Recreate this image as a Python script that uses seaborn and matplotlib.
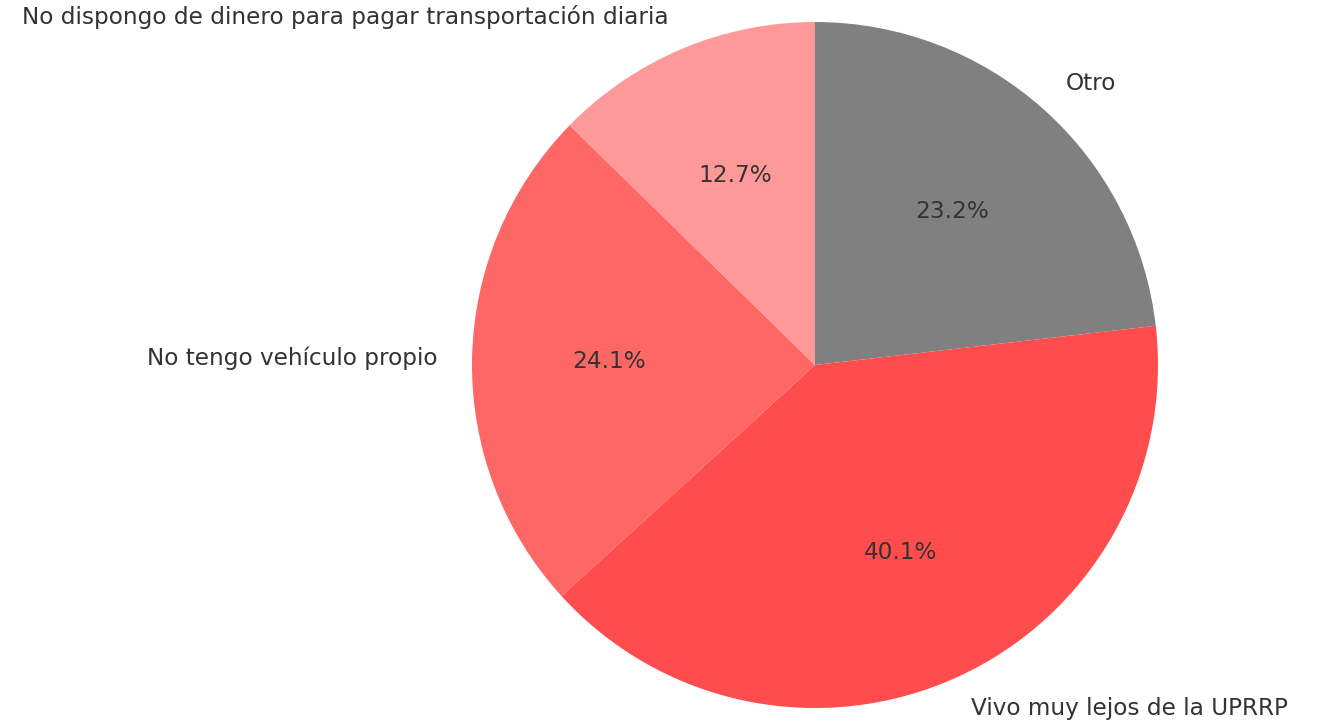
import matplotlib
matplotlib.use("Agg")
import matplotlib.pyplot as plt
import seaborn as sns

# datos
categorias = ["Otro", "Vivo muy lejos de la UPRRP", "No tengo vehículo propio",
              "No dispongo de dinero para pagar transportación diaria"]
porcentajes = [23.2, 40.1, 24.1, 12.7]
colores = ["#808080", "#FF4C4C", "#FF6666", "#FF9999"]

sns.set_theme(style="white")
plt.rcParams['font.family'] = ['DejaVu Sans']
plt.rcParams['text.color'] = '#333333'

fig = plt.figure(figsize=(13.25, 7.24), dpi=100)
ax = fig.add_axes([472 / 1325, 16 / 724, 686 / 1325, 686 / 724])

ax.pie(porcentajes, labels=categorias, colors=colores, autopct='%1.1f%%',
       startangle=90, counterclock=False,
       wedgeprops={'linewidth': 0, 'edgecolor': 'none'},
       textprops={'fontsize': 16.7, 'color': '#333333'})
ax.set_aspect('equal')
ax.set_xlim(-1, 1)
ax.set_ylim(-1, 1)

fig.savefig("out.png", dpi=100)
